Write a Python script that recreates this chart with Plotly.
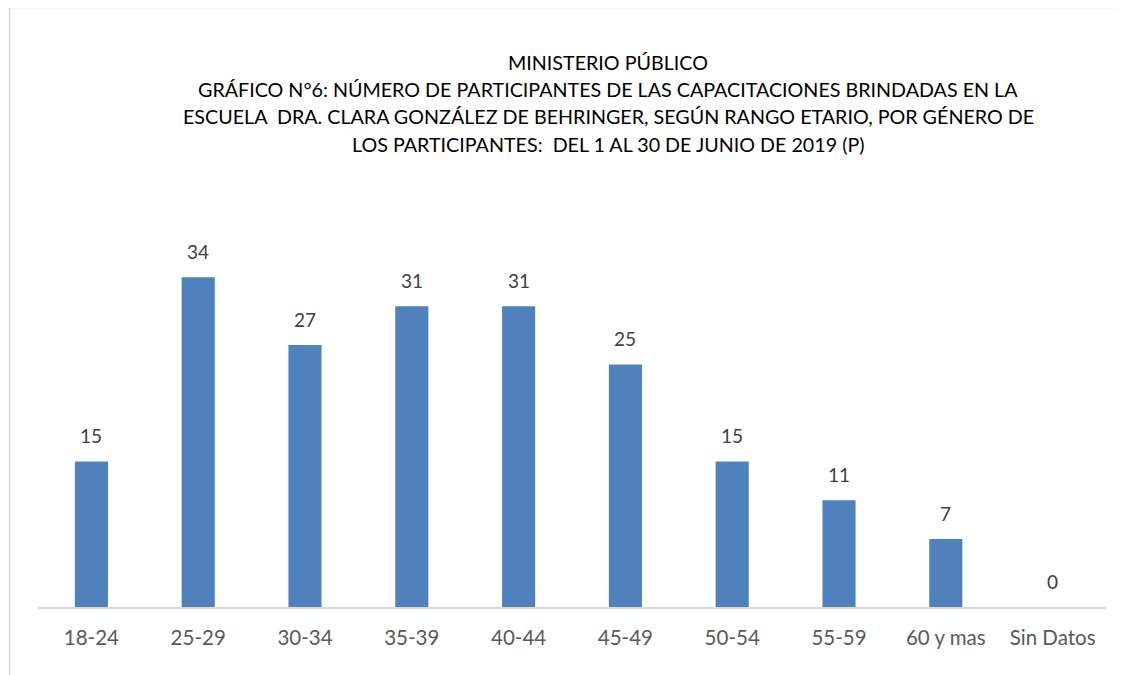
import plotly.graph_objects as go

categories = ["18-24", "25-29", "30-34", "35-39", "40-44", "45-49", "50-54", "55-59", "60 y mas", "Sin Datos"]
values = [15, 34, 27, 31, 31, 25, 15, 11, 7, 0]
title_lines = [
    "MINISTERIO PÚBLICO",
    "GRÁFICO N°6: NÚMERO DE PARTICIPANTES DE LAS CAPACITACIONES BRINDADAS EN LA",
    "ESCUELA  DRA. CLARA GONZÁLEZ DE BEHRINGER, SEGÚN RANGO ETARIO, POR GÉNERO DE",
    "LOS PARTICIPANTES:  DEL 1 AL 30 DE JUNIO DE 2019 (P)",
]

W, H = 1123, 675
OFF = 8  # page body margin
# target page pixel positions of the plot area
PL, PR, PT, PB = 38, 1106, 219, 607
ML = PL - OFF
MT = PT - OFF
MR = W + OFF - PR
MB = H + OFF - PB
PW, PH = W - ML - MR, H - MT - MB
FONT = "Lato"


def px_x(page_x):
    return (page_x - PL) / PW


def px_y(page_y):
    return (PB - page_y) / PH


fig = go.Figure()
fig.add_trace(go.Bar(
    x=categories, y=values,
    marker=dict(color="#4F81BD", line=dict(width=0)),
    hoverinfo="x+y",
))

annotations = []
for c, v in zip(categories, values):
    annotations.append(dict(
        x=c, y=v, xref="x", yref="y", text=str(v), showarrow=False,
        yanchor="middle", yshift=26,
        font=dict(family=FONT, size=19, color="#404040"),
    ))

title_y_px = [62, 89, 116, 144]
for line, py in zip(title_lines, title_y_px):
    annotations.append(dict(
        x=px_x(608), y=px_y(py), xref="paper", yref="paper",
        text=line, showarrow=False, xanchor="center", yanchor="middle",
        font=dict(family=FONT, size=19.7, color="#000000"),
    ))

fig.update_layout(
    width=W, height=H,
    margin=dict(l=ML, r=MR, t=MT, b=MB, pad=0),
    paper_bgcolor="white", plot_bgcolor="white",
    bargap=0.69,
    showlegend=False,
    annotations=annotations,
    xaxis=dict(
        type="category", showgrid=False, zeroline=False,
        showline=True, linecolor="#D9D9D9", linewidth=1.5,
        ticks="", tickfont=dict(family=FONT, size=20.5, color="#595959"),
        ticklabelstandoff=12,
    ),
    yaxis=dict(
        range=[0, 40], visible=False, showgrid=False, zeroline=False,
    ),
    shapes=[dict(
        type="rect", xref="paper", yref="paper",
        x0=px_x(9.5), x1=px_x(W + 20),
        y0=px_y(H + 20), y1=px_y(7.5),
        line=dict(color="#D9D9D9", width=1.5), fillcolor="rgba(0,0,0,0)",
        layer="below",
    )],
)

fig.write_html("out.html")
